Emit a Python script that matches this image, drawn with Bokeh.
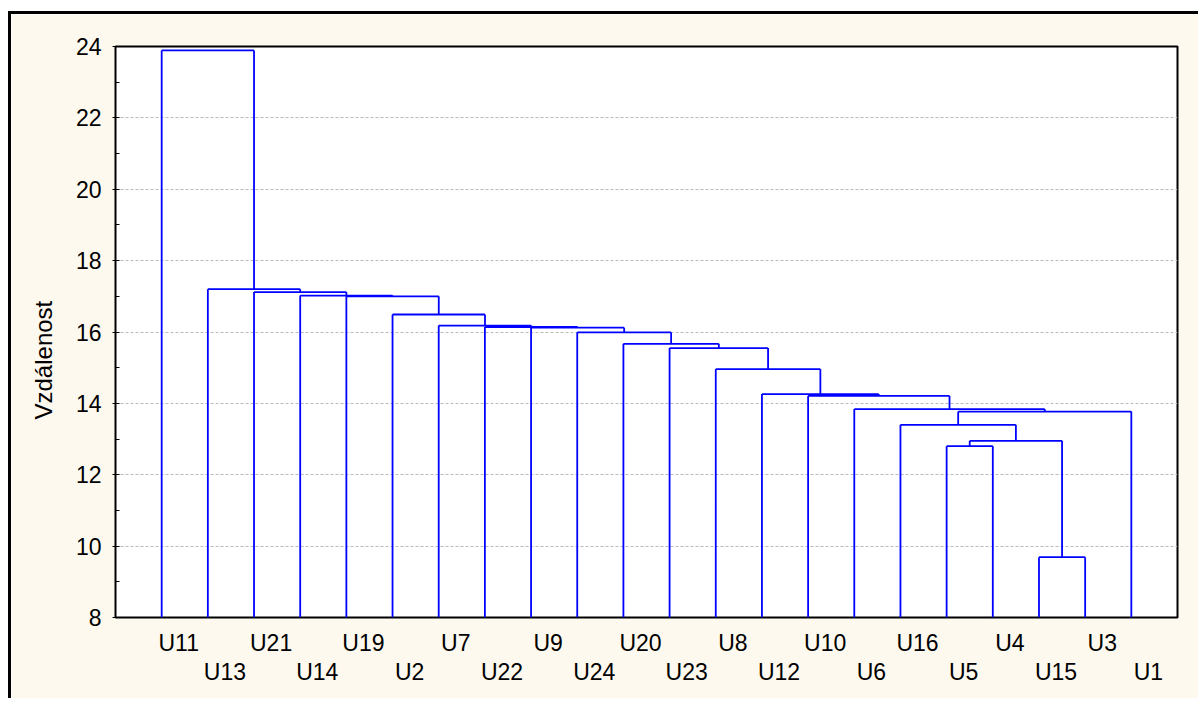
from bokeh.plotting import figure
from bokeh.models import ColumnDataSource, FixedTicker, LinearAxis, Range1d, Title
from bokeh.embed import file_html
from bokeh.resources import INLINE

# ---- data -------------------------------------------------------------
leaves = ["U11", "U13", "U21", "U14", "U19", "U2", "U7", "U22", "U9", "U24", "U20",
          "U23", "U8", "U12", "U10", "U6", "U16", "U5", "U4", "U15", "U3", "U1"]

# each merge joins two children (a leaf name, or "#k" = result of merge k)
merge_left = ["U15", "U5", "#1", "U16", "#3", "U6", "U10", "U12", "U8", "U23", "U20",
              "U24", "U9", "U22", "U7", "U2", "U19", "U14", "U21", "U13", "U11"]
merge_right = ["U3", "U4", "#0", "#2", "U1", "#4", "#5", "#6", "#7", "#8", "#9",
               "#10", "#11", "#12", "#13", "#14", "#15", "#16", "#17", "#18", "#19"]
merge_height = [9.69, 12.80, 12.95, 13.40, 13.77, 13.84, 14.21, 14.26, 14.96, 15.55, 15.67,
                15.99, 16.12, 16.14, 16.18, 16.49, 17.00, 17.02, 17.12, 17.20, 23.89]

y_ticks = [8, 10, 12, 14, 16, 18, 20, 22, 24]
y_minor = [9, 11, 13, 15, 17, 19, 21, 23]
y_title = "Vzdálenost"

# ---- dendrogram layout -------------------------------------------------
base = y_ticks[0]
xpos = {name: i + 1 for i, name in enumerate(leaves)}
ypos = {name: base for name in leaves}
x0, y0, x1, y1 = [], [], [], []
for k, (a, b, h) in enumerate(zip(merge_left, merge_right, merge_height)):
    xa, ya = xpos[a], ypos[a]
    xb, yb = xpos[b], ypos[b]
    x0 += [xa, xb, xa]
    y0 += [ya, yb, h]
    x1 += [xa, xb, xb]
    y1 += [h, h, h]
    key = "#%d" % k
    xpos[key] = (xa + xb) / 2.0
    ypos[key] = h

src = ColumnDataSource(dict(x0=x0, y0=y0, x1=x1, y1=y1))

FONT = "Liberation Sans"
CREAM = "#FDF9EE"
LBL = "23px"
n = len(leaves)
LABEL_SHIFT = 0.37  # labels sit a little to the right of each leaf, as in the original

p = figure(width=1190, height=687, output_backend="svg", toolbar_location=None,
           x_range=Range1d(0, n + 1), y_range=Range1d(y_ticks[0], y_ticks[-1]),
           min_border_left=104, min_border_top=32, min_border_right=24, min_border_bottom=84,
           background_fill_color="white", border_fill_color=CREAM,
           outline_line_color="black", outline_line_width=2,
           styles={"border-left": "3px solid black", "border-top": "3px solid black",
                   "position": "relative", "left": "8px", "top": "11px"})
p.extra_x_ranges = {"labels": Range1d(-LABEL_SHIFT, n + 1 - LABEL_SHIFT)}

p.segment(x0="x0", y0="y0", x1="x1", y1="y1", source=src,
          line_color="#0000FF", line_width=1.8)

# grid
p.xgrid.visible = False
p.ygrid.grid_line_color = "#BBBBBB"
p.ygrid.grid_line_dash = "3 2"
p.ygrid.grid_line_width = 1

# y axis
ya_ = p.yaxis[0]
ya_.ticker = FixedTicker(ticks=y_ticks, minor_ticks=y_minor)
ya_.axis_line_color = None
ya_.major_tick_in = 4
ya_.major_tick_out = 3
ya_.minor_tick_in = 4
ya_.minor_tick_out = 0
ya_.major_tick_line_color = "black"
ya_.minor_tick_line_color = "black"
ya_.major_label_text_font = FONT
ya_.major_label_text_font_size = LBL
ya_.major_label_text_color = "black"
ya_.major_label_standoff = 11

# y title, placed a little below the frame's middle as in the original
p.add_layout(Title(text=y_title, align="left", offset=198, standoff=32,
                   text_font=FONT, text_font_size="24px", text_font_style="normal",
                   text_color="black"), "left")

odd_ticks = list(range(1, n + 1, 2))
even_ticks = list(range(2, n + 1, 2))

# first row of labels (odd positions), shifted right of the leaves
xa1 = p.xaxis[0]
xa1.x_range_name = "labels"
xa1.ticker = FixedTicker(ticks=odd_ticks, minor_ticks=[])
xa1.major_label_overrides = {i + 1: nm for i, nm in enumerate(leaves) if i % 2 == 0}
xa1.axis_line_color = None
xa1.major_tick_line_color = None
xa1.minor_tick_line_color = None
xa1.major_tick_in = 0
xa1.major_tick_out = 0
xa1.major_label_text_font = FONT
xa1.major_label_text_font_size = LBL
xa1.major_label_text_color = "black"
xa1.major_label_standoff = 12

# second row of labels (even positions)
xa2 = LinearAxis(x_range_name="labels", ticker=FixedTicker(ticks=even_ticks, minor_ticks=[]))
xa2.major_label_overrides = {i + 1: nm for i, nm in enumerate(leaves) if i % 2 == 1}
xa2.axis_line_color = None
xa2.major_tick_line_color = None
xa2.minor_tick_line_color = None
xa2.major_tick_in = 0
xa2.major_tick_out = 0
xa2.major_label_text_font = FONT
xa2.major_label_text_font_size = LBL
xa2.major_label_text_color = "black"
xa2.major_label_standoff = 0
p.add_layout(xa2, "below")

open("out.html", "w").write(file_html(p, INLINE))
